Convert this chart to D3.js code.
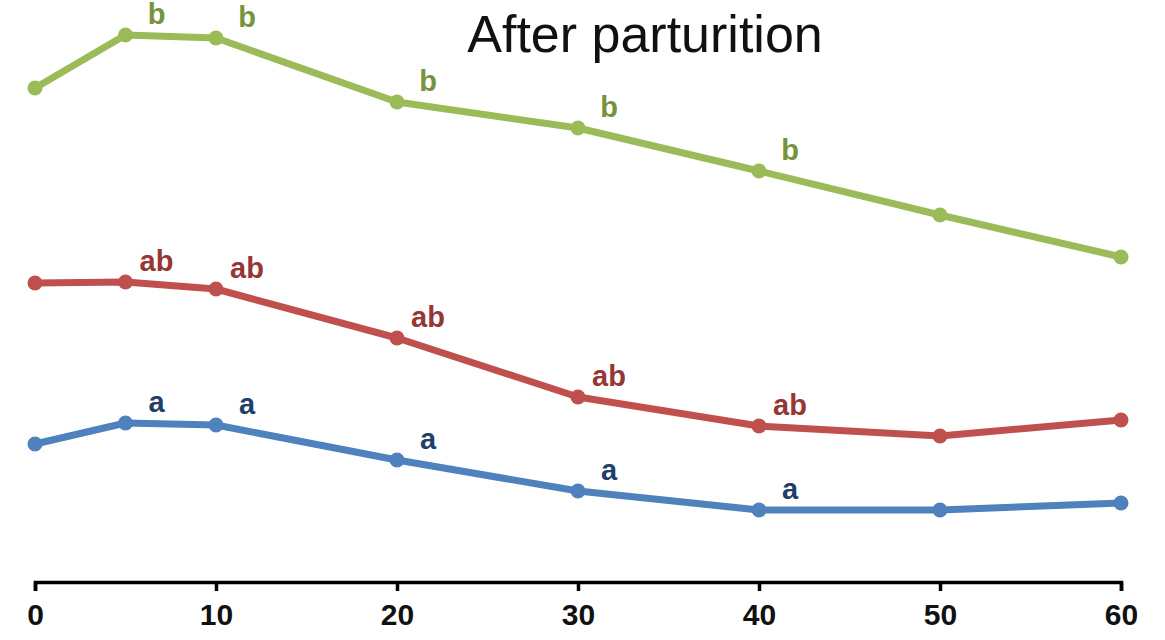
<!DOCTYPE html>
<html><head><meta charset="utf-8">
<script src="https://cdn.jsdelivr.net/npm/d3@7"></script>
<style>body{margin:0;background:#fff}svg{display:block}</style>
</head><body><svg id="c" width="1165" height="640"></svg>
<script>
const times = [0, 5, 10, 20, 30, 40, 50, 60];
const xTicks = [0, 10, 20, 30, 40, 50, 60];
const greenValues = [98.8, 109.4, 108.8, 96.0, 90.8, 82.2, 73.4, 65.0];
const redValues   = [59.8, 60.0, 58.6, 48.8, 37.0, 31.2, 29.2, 32.4];
const blueValues  = [27.6, 31.8, 31.4, 24.4, 18.2, 14.4, 14.4, 15.8];
const greenLabels = ["", "b", "b", "b", "b", "b", "", ""];
const redLabels   = ["", "ab", "ab", "ab", "ab", "ab", "", ""];
const blueLabels  = ["", "a", "a", "a", "a", "a", "", ""];
const title = "After parturition";

const series = [
  {values: greenValues, labels: greenLabels, line: "#9BBB59", text: "#77933C"},
  {values: redValues, labels: redLabels, line: "#C0504D", text: "#953735"},
  {values: blueValues, labels: blueLabels, line: "#4F81BD", text: "#1F3F6A"}
];

const font = "Liberation Sans, Arial, sans-serif";
const svg = d3.select("#c");
const x = d3.scaleLinear().domain([0, 60]).range([35, 1121]);
const y = d3.scaleLinear().domain([0, 110]).range([582, 32]);

svg.append("text").attr("x", 645).attr("y", 52).attr("text-anchor", "middle")
  .attr("font-family", font).attr("font-size", 52)
  .attr("fill", "#111").text(title);

const ax = svg.append("g").attr("transform", "translate(0,582)")
  .call(d3.axisBottom(x).tickValues(xTicks).tickSize(9).tickSizeOuter(9).tickPadding(13));
ax.select(".domain").attr("stroke", "#000").attr("stroke-width", 3.5);
ax.selectAll(".tick line").attr("stroke", "#000").attr("stroke-width", 3.5);
ax.selectAll(".tick text").attr("font-family", font)
  .attr("font-size", 30).attr("font-weight", "bold").attr("fill", "#111");

const line = d3.line().x((d, i) => x(times[i])).y(d => y(d));
series.forEach(s => {
  const g = svg.append("g");
  g.append("path").datum(s.values).attr("d", line).attr("fill", "none")
    .attr("stroke", s.line).attr("stroke-width", 7).attr("stroke-linejoin", "round");
  g.selectAll("circle").data(s.values).join("circle")
    .attr("cx", (d, i) => x(times[i])).attr("cy", d => y(d)).attr("r", 7.5).attr("fill", s.line);
  g.selectAll("text").data(s.values).join("text")
    .attr("x", (d, i) => x(times[i]) + 31).attr("y", d => y(d) - 11)
    .attr("text-anchor", "middle").attr("font-family", font)
    .attr("font-size", 29).attr("font-weight", "bold").attr("fill", s.text)
    .text((d, i) => s.labels[i]);
});
</script></body></html>
